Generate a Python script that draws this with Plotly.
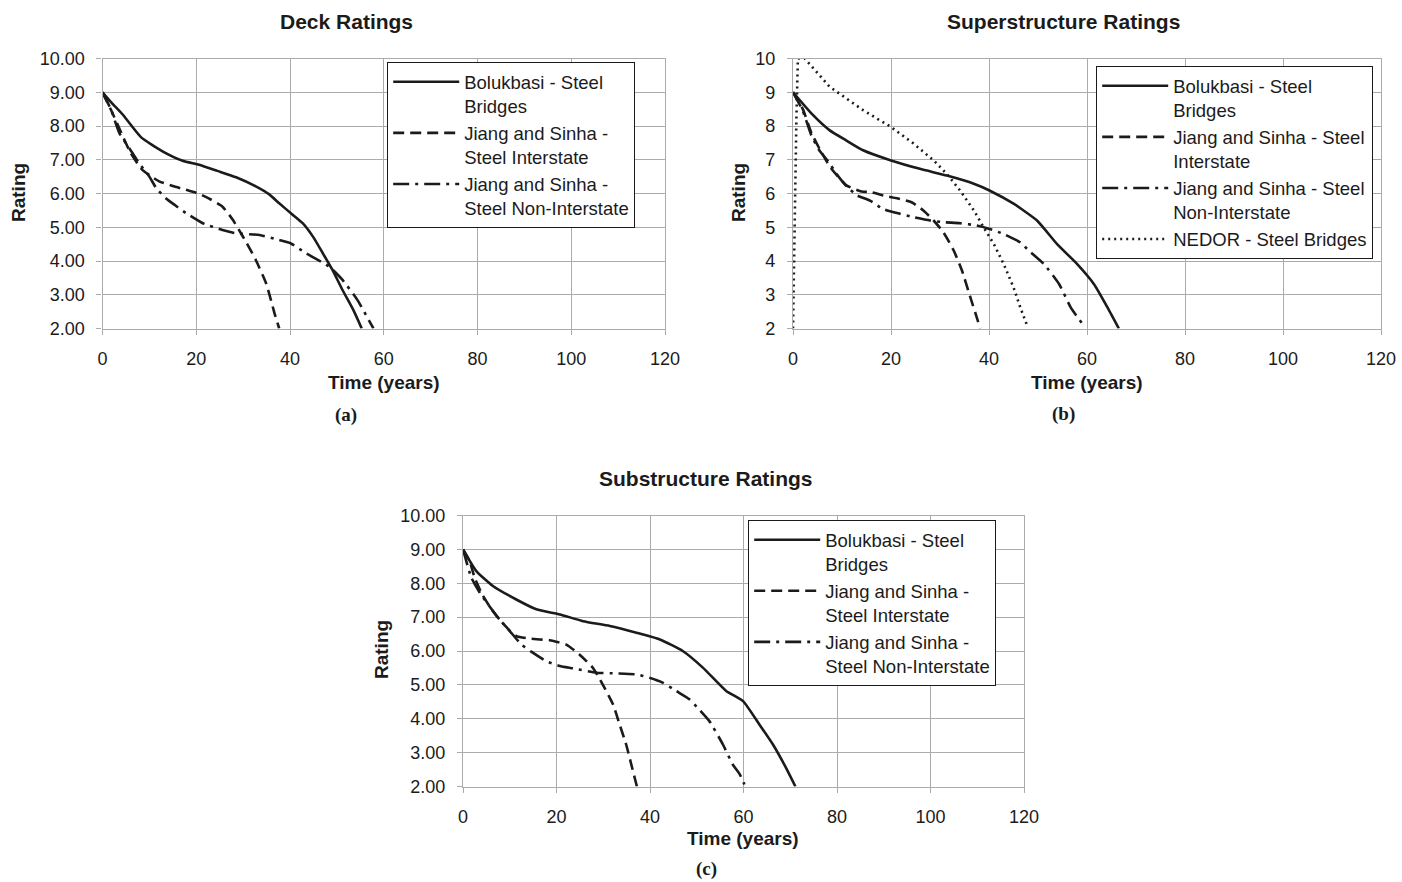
import plotly.graph_objects as go

W, H = 1402, 882

# ---------------- data ----------------
# (a) Deck ratings
deck_bol_x = [0, 2, 4.3, 8.2, 12.8, 17.1, 20.6, 24.5, 28.5, 32.7, 35.5, 37.7, 40.5, 42.7, 45, 47, 49, 51.2, 53.5, 55.3]
deck_bol_y = [9.0, 8.68, 8.34, 7.67, 7.25, 6.97, 6.85, 6.67, 6.48, 6.21, 5.98, 5.71, 5.38, 5.12, 4.7, 4.23, 3.75, 3.14, 2.55, 2.0]
deck_ji_x = [0, 2, 4, 6, 8.5, 10.5, 12.1, 15, 17.8, 20.6, 23, 25.6, 27.8, 29.2, 30.6, 32.7, 34.9, 36.7, 37.7]
deck_ji_y = [9.0, 8.42, 7.8, 7.2, 6.7, 6.5, 6.36, 6.22, 6.11, 5.99, 5.83, 5.61, 5.22, 4.9, 4.57, 4.03, 3.34, 2.45, 2.0]
deck_jn_x = [0, 1.8, 3.6, 6.4, 7.8, 10, 11.5, 13.5, 15.5, 17.8, 21.4, 25.6, 28.5, 33.5, 37.7, 40.2, 43.4, 48.4, 51.2, 54.4, 57.8]
deck_jn_y = [9.0, 8.49, 7.79, 7.2, 6.9, 6.5, 6.15, 5.86, 5.65, 5.42, 5.12, 4.92, 4.82, 4.77, 4.62, 4.52, 4.23, 3.83, 3.44, 2.84, 2.0]

# (b) Superstructure ratings
sup_bol_x = [0, 4.1, 7.5, 10.9, 14.3, 20, 25.9, 31.4, 36.9, 40.1, 45.1, 49.8, 53.9, 58, 61.4, 64.2, 66.5]
sup_bol_y = [9.0, 8.32, 7.87, 7.57, 7.28, 6.98, 6.73, 6.53, 6.29, 6.09, 5.69, 5.2, 4.5, 3.91, 3.32, 2.62, 2.0]
sup_ji_x = [0, 2, 3.75, 5.5, 7.5, 8.9, 10.9, 14, 16, 18.4, 21.8, 24.2, 26.6, 28.7, 30.7, 32.8, 34.5, 36.2, 37.5, 38.2]
sup_ji_y = [9.0, 8.5, 7.8, 7.3, 6.8, 6.55, 6.24, 6.06, 6.04, 5.94, 5.84, 5.74, 5.5, 5.2, 4.85, 4.31, 3.71, 2.92, 2.33, 2.0]
sup_jn_x = [0, 2, 3.75, 5.5, 7.2, 8.9, 10.9, 13, 15.7, 18.4, 21.8, 24.6, 28, 30.7, 34.1, 37.5, 40.1, 43, 46.4, 48.1, 51.2, 54.3, 56.7, 59]
sup_jn_y = [9.0, 8.45, 7.72, 7.25, 6.95, 6.58, 6.22, 5.95, 5.79, 5.54, 5.4, 5.3, 5.2, 5.15, 5.12, 5.05, 4.95, 4.8, 4.55, 4.31, 3.91, 3.32, 2.62, 2.15]
sup_ne_x = [0, 0.34, 0.7, 1.0, 2.4, 7.5, 14.3, 20, 24.6, 28.7, 31.4, 34.1, 36.9, 38.9, 41, 43, 45, 46.4, 47.8]
sup_ne_y = [2.0, 5.3, 8.27, 10.0, 10.0, 9.16, 8.47, 7.97, 7.48, 6.98, 6.58, 6.09, 5.5, 5.0, 4.5, 3.91, 3.22, 2.62, 2.08]

# (c) Substructure ratings
sub_bol_x = [0, 2.85, 6.4, 11.4, 15.7, 20.7, 25.7, 31.4, 37.1, 42.1, 47, 51.3, 56.3, 59.9, 63.4, 66.3, 69.1, 71.1]
sub_bol_y = [9.0, 8.36, 7.92, 7.52, 7.23, 7.08, 6.88, 6.74, 6.54, 6.34, 6.0, 5.51, 4.82, 4.52, 3.83, 3.24, 2.55, 2.0]
sub_ji_x = [0, 1.4, 2.5, 4, 6, 8, 10, 11.4, 14, 16.4, 18.5, 22.1, 24.9, 27.8, 29.9, 32.1, 33.5, 34.9, 36, 37.2]
sub_ji_y = [9.0, 8.66, 8.16, 7.7, 7.25, 6.9, 6.6, 6.44, 6.37, 6.34, 6.32, 6.19, 5.9, 5.5, 5.01, 4.42, 3.83, 3.24, 2.65, 2.0]
sub_jn_x = [0, 1.8, 3.6, 6.4, 7.8, 10, 12.5, 14.6, 17.8, 20.7, 23.5, 28.5, 32.8, 37.1, 39.9, 42.8, 45.6, 48.5, 50.2, 52.7, 55.6, 57.7, 59.2, 60.2]
sub_jn_y = [9.0, 8.16, 7.72, 7.18, 6.93, 6.59, 6.19, 5.98, 5.7, 5.56, 5.49, 5.36, 5.34, 5.31, 5.21, 5.06, 4.82, 4.57, 4.32, 3.93, 3.24, 2.65, 2.36, 2.06]

names_a = ["Bolukbasi - Steel<br>Bridges", "Jiang and Sinha -<br>Steel Interstate", "Jiang and Sinha -<br>Steel Non-Interstate"]
names_b = ["Bolukbasi - Steel<br>Bridges", "Jiang and Sinha - Steel<br>Interstate", "Jiang and Sinha - Steel<br>Non-Interstate", "NEDOR - Steel Bridges"]
names_c = ["Bolukbasi - Steel<br>Bridges", "Jiang and Sinha -<br>Steel Interstate", "Jiang and Sinha -<br>Steel Non-Interstate"]

titles = ["Deck Ratings", "Superstructure Ratings", "Substructure Ratings"]
captions = ["(a)", "(b)", "(c)"]
x_ticks = [0, 20, 40, 60, 80, 100, 120]

# ---------------- styling ----------------
INK = "#1b1b1b"
GRID = "#ababab"
FONT = "Liberation Sans, Arial, Helvetica, sans-serif"
LW = 2.6
DASH = "11px,6px"
DASHDOT = "16px,6px,3px,6px"
DOT = "2px,4px"

def px_x(p):
    return p / W

def px_y(p):
    return 1 - p / H

fig = go.Figure()

def add(x, y, name, dash, xa, ya, leg, shape="spline"):
    fig.add_trace(go.Scatter(
        x=x, y=y, name=name, mode="lines",
        line=dict(color=INK, width=LW, dash=dash, shape=shape, smoothing=0.5),
        xaxis=xa, yaxis=ya, legend=leg,
    ))

add(deck_bol_x, deck_bol_y, names_a[0], "solid", "x", "y", "legend")
add(deck_ji_x, deck_ji_y, names_a[1], DASH, "x", "y", "legend")
add(deck_jn_x, deck_jn_y, names_a[2], DASHDOT, "x", "y", "legend")

add(sup_bol_x, sup_bol_y, names_b[0], "solid", "x2", "y2", "legend2")
add(sup_ji_x, sup_ji_y, names_b[1], DASH, "x2", "y2", "legend2")
add(sup_jn_x, sup_jn_y, names_b[2], DASHDOT, "x2", "y2", "legend2")
add(sup_ne_x, sup_ne_y, names_b[3], DOT, "x2", "y2", "legend2", shape="linear")

add(sub_bol_x, sub_bol_y, names_c[0], "solid", "x3", "y3", "legend3")
add(sub_ji_x, sub_ji_y, names_c[1], DASH, "x3", "y3", "legend3")
add(sub_jn_x, sub_jn_y, names_c[2], DASHDOT, "x3", "y3", "legend3")

# plot-area pixel boxes in page pixels: (left, right, top, bottom)
boxes = [(102.5, 665, 58.5, 328.5), (793, 1381, 58.5, 328.5), (463, 1024, 515.5, 786.5)]
yfmt = [".2f", "d", ".2f"]

common_x = dict(range=[0, 120], tickvals=x_ticks, showgrid=True, gridcolor=GRID, gridwidth=1.2,
                showline=True, linecolor=GRID, linewidth=1.2, mirror=True, zeroline=False,
                ticks="outside", ticklen=5, tickcolor=GRID, tickwidth=1.2, automargin=False,
                tickfont=dict(family=FONT, size=18, color=INK), ticklabelstandoff=9,
                ticklabeloverflow="allow", fixedrange=True)
common_y = dict(range=[2, 10], dtick=1, tick0=2, showgrid=True, gridcolor=GRID, gridwidth=1.2,
                showline=True, linecolor=GRID, linewidth=1.2, mirror=True, zeroline=False,
                ticks="outside", ticklen=5, tickcolor=GRID, tickwidth=1.2, automargin=False,
                tickfont=dict(family=FONT, size=18, color=INK), ticklabelstandoff=8,
                ticklabeloverflow="allow", fixedrange=True)

layout = dict(
    template="none",
    width=W, height=H, autosize=False,
    margin=dict(l=0, r=0, t=0, b=0, pad=0),
    paper_bgcolor="white", plot_bgcolor="white",
    font=dict(family=FONT, color=INK),
)

for i, (l, r, t, b) in enumerate(boxes):
    sx = "" if i == 0 else str(i + 1)
    layout["xaxis" + sx] = dict(common_x, domain=[px_x(l), px_x(r)], anchor="y" + sx)
    layout["yaxis" + sx] = dict(common_y, domain=[px_y(b), px_y(t)], anchor="x" + sx, tickformat=yfmt[i])

leg_common = dict(bgcolor="white", bordercolor=INK, borderwidth=1.2,
                  font=dict(family=FONT, size=18.5, color=INK),
                  valign="top", tracegroupgap=0, traceorder="normal",
                  xanchor="left", yanchor="top", itemwidth=66)
layout["legend"] = dict(leg_common, x=px_x(387), y=px_y(62))
layout["legend2"] = dict(leg_common, x=px_x(1096), y=px_y(66))
layout["legend3"] = dict(leg_common, x=px_x(748), y=px_y(520))

fig.update_layout(**layout)

# titles, axis titles and captions as annotations (centre positions in page px)
title_pos = [(346, 21), (1063, 21), (706, 478)]
time_pos = [(384, 382), (1087, 382), (743, 838)]
rating_pos = [(18, 193), (738, 193), (381, 650)]
cap_pos = [(346, 415), (1063, 414), (706, 869)]

def note(text, pos, size, family=FONT, angle=0):
    fig.add_annotation(text=text, x=px_x(pos[0]), y=px_y(pos[1]),
                       xref="paper", yref="paper", xanchor="center", yanchor="middle",
                       showarrow=False, textangle=angle,
                       font=dict(family=family, size=size, color=INK, weight="bold"))

for i in range(3):
    note(titles[i], title_pos[i], 21)
    note("Time (years)", time_pos[i], 19)
    note("Rating", rating_pos[i], 19, angle=-90)
    note(captions[i], cap_pos[i], 19, family="Liberation Serif, Times New Roman, serif")

# remove the default page margin so the 1402x882 figure fills the window exactly
page_js = "document.body.style.margin='0';document.body.style.overflow='hidden';"

fig.write_html("out.html", post_script=page_js, config={"displayModeBar": False})
